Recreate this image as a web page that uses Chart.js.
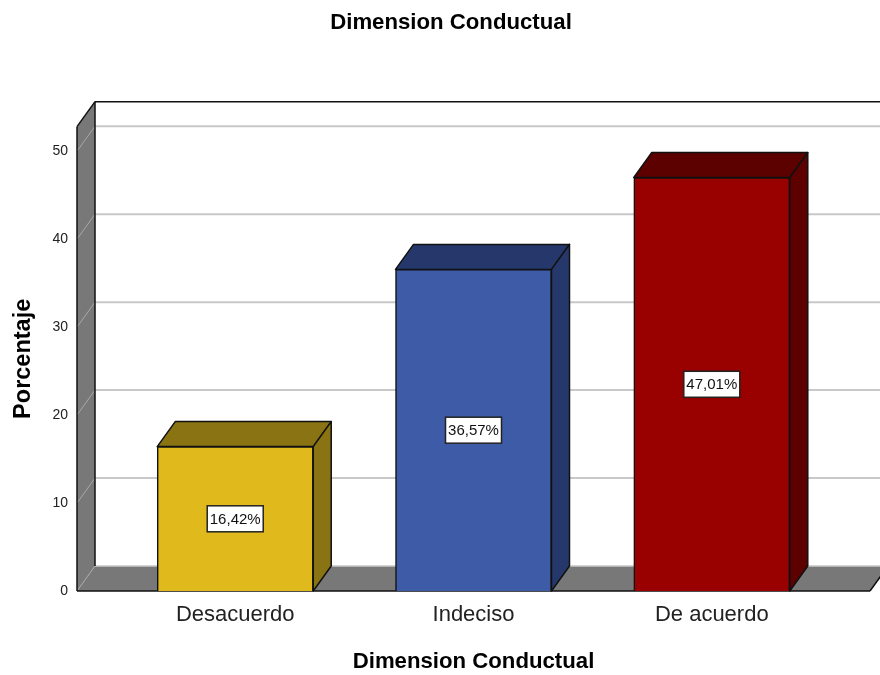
<!DOCTYPE html>
<html>
<head>
<meta charset="utf-8">
<title>Dimension Conductual</title>
<script src="https://cdn.jsdelivr.net/npm/chart.js@4/dist/chart.umd.min.js"></script>
<style>
    body { margin: 0; background: #fff; }
    canvas { display: block; }
</style>
</head>
<body>
<canvas id="chart" width="880" height="675"></canvas>
<script>
// Values
const categories = ['Desacuerdo', 'Indeciso', 'De acuerdo'];
const percentages = [16.42, 36.57, 47.01];
const percentLabels = ['16,42%', '36,57%', '47,01%'];
const yTicks = [0, 10, 20, 30, 40, 50];

const frontColors = ['#e0ba1c', '#3e5ba8', '#990000'];
const topColors = ['#8a7313', '#26386b', '#5c0000'];

// Depth of the fake 3D box, in pixels
const depthX = 18;
const depthY = -25;
const wallGray = '#787878';
const gridGray = '#c8c8c8';

function fillFace(ctx, points, fill, stroke, lineWidth) {
    ctx.beginPath();
    points.forEach((p, i) => i ? ctx.lineTo(p[0], p[1]) : ctx.moveTo(p[0], p[1]));
    ctx.closePath();
    ctx.fillStyle = fill;
    ctx.fill();
    if (stroke) {
        ctx.strokeStyle = stroke;
        ctx.lineWidth = lineWidth;
        ctx.stroke();
    }
}

function line(ctx, x1, y1, x2, y2, color, width) {
    ctx.beginPath();
    ctx.moveTo(x1, y1);
    ctx.lineTo(x2, y2);
    ctx.strokeStyle = color;
    ctx.lineWidth = width;
    ctx.stroke();
}

// Walls, floor, gridlines and the side and top faces of the bars
const boxPlugin = {
    id: 'box3d',
    beforeDatasetsDraw(chart) {
        const { ctx, chartArea: area, scales } = chart;
        const y0 = scales.y.getPixelForValue(0);
        const backRight = area.right + depthX;

        ctx.save();
        ctx.lineJoin = 'round';
        fillFace(ctx, [[area.left, y0], [area.left, area.top], [area.left + depthX, area.top + depthY], [area.left + depthX, y0 + depthY]], wallGray);
        fillFace(ctx, [[area.left, y0], [area.right, y0], [backRight, y0 + depthY], [area.left + depthX, y0 + depthY]], wallGray);

        yTicks.forEach(tick => {
            const y = scales.y.getPixelForValue(tick);
            line(ctx, area.left, y, area.left + depthX, y + depthY, '#a8a8a8', 1);
            if (tick) line(ctx, area.left + depthX, y + depthY, backRight, y + depthY, gridGray, 2);
        });
        line(ctx, area.left + depthX, y0 + depthY, backRight, y0 + depthY, gridGray, 1.5);

        // outline of the box
        line(ctx, area.left, y0, area.left, area.top, '#111', 1.5);
        line(ctx, area.left, area.top, area.left + depthX, area.top + depthY, '#111', 1.5);
        line(ctx, area.left + depthX, area.top + depthY, area.left + depthX, y0 + depthY, '#111', 1.5);
        line(ctx, area.left + depthX, area.top + depthY, backRight, area.top + depthY, '#111', 1.5);
        line(ctx, area.left, y0, area.right, y0, '#111', 1.5);
        line(ctx, area.right, y0, backRight, y0 + depthY, '#111', 1.5);

        chart.getDatasetMeta(0).data.forEach((bar, i) => {
            const left = bar.x - bar.width / 2;
            const right = bar.x + bar.width / 2;
            fillFace(ctx, [[left, bar.y], [right, bar.y], [right + depthX, bar.y + depthY], [left + depthX, bar.y + depthY]], topColors[i], '#111', 1.5);
            fillFace(ctx, [[right, bar.y], [right + depthX, bar.y + depthY], [right + depthX, bar.base + depthY], [right, bar.base]], topColors[i], '#111', 1.5);
        });
        ctx.restore();
    },
    afterDatasetsDraw(chart) {
        const { ctx } = chart;
        ctx.save();
        ctx.font = '15px "Liberation Sans"';
        ctx.textAlign = 'center';
        ctx.textBaseline = 'middle';
        chart.getDatasetMeta(0).data.forEach((bar, i) => {
            const midY = (bar.y + bar.base) / 2;
            ctx.fillStyle = '#fff';
            ctx.fillRect(bar.x - 28, midY - 13, 56, 26);
            ctx.strokeStyle = '#222';
            ctx.lineWidth = 1.5;
            ctx.strokeRect(bar.x - 28, midY - 13, 56, 26);
            ctx.fillStyle = '#111';
            ctx.fillText(percentLabels[i], bar.x, midY + 1);
        });
        ctx.restore();
    }
};

new Chart(document.getElementById('chart').getContext('2d'), {
    type: 'bar',
    data: {
        datasets: [{
            data: percentages.map((value, i) => ({ x: i, y: value })),
            backgroundColor: frontColors,
            borderColor: '#111',
            borderWidth: 1.5,
            barThickness: 156
        }]
    },
    options: {
        responsive: false,
        animation: false,
        devicePixelRatio: 1,
        layout: { padding: { left: 32, right: 10, top: 0, bottom: 0 } },
        plugins: {
            legend: { display: false },
            tooltip: { enabled: false },
            title: {
                display: true,
                text: 'Dimension Conductual',
                color: '#000',
                font: { family: '"Liberation Sans"', size: 22.2, weight: 'bold' },
                padding: { top: 10, bottom: 90 }
            }
        },
        scales: {
            x: {
                type: 'linear',
                offset: false,
                min: -0.664,
                max: 2.664,
                grid: { display: false },
                border: { display: false },
                afterBuildTicks: scale => { scale.ticks = categories.map((c, i) => ({ value: i })); },
                afterFit: scale => { scale.height = 84; },
                ticks: {
                    color: '#222',
                    autoSkip: false,
                    maxRotation: 0,
                    padding: 3,
                    font: { family: '"Liberation Sans"', size: 22 },
                    callback: value => categories[value]
                },
                title: {
                    display: true,
                    text: 'Dimension Conductual',
                    color: '#000',
                    font: { family: '"Liberation Sans"', size: 22.2, weight: 'bold' },
                    padding: { top: 14, bottom: 0 }
                }
            },
            y: {
                min: 0,
                max: 52.8,
                grid: { display: false },
                border: { display: false },
                afterBuildTicks: scale => { scale.ticks = yTicks.map(value => ({ value })); },
                afterFit: scale => { scale.width = 45; },
                ticks: {
                    color: '#222',
                    padding: 1,
                    font: { family: '"Liberation Sans"', size: 14 }
                },
                title: {
                    display: true,
                    text: 'Porcentaje',
                    color: '#000',
                    font: { family: '"Liberation Sans"', size: 23.5, weight: 'bold' },
                    padding: { top: -23, bottom: 0 }
                }
            }
        }
    },
    plugins: [boxPlugin]
});
</script>
</body>
</html>
